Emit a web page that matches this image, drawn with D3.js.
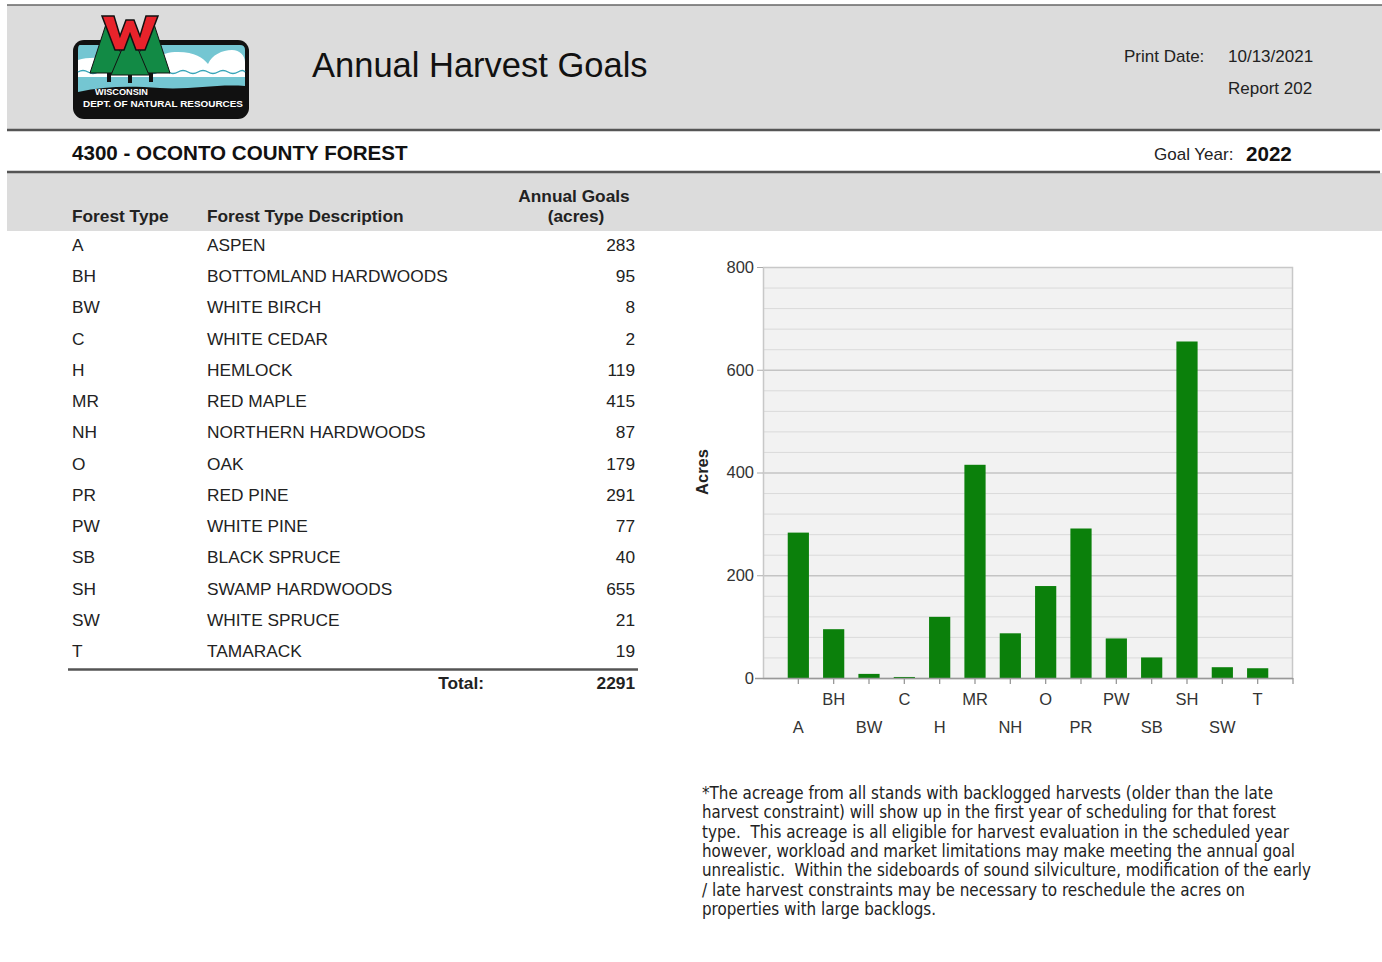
<!DOCTYPE html>
<html>
<head>
<meta charset="utf-8">
<script src="https://cdn.jsdelivr.net/npm/d3@7"></script>
<style>
  html, body { margin: 0; padding: 0; background: #fff; }
  svg { display: block; font-family: "Liberation Sans", Arial, sans-serif; }
  .fn text { white-space: pre; }
</style>
</head>
<body>
<svg id="page" width="1382" height="962"></svg>
<script>
// ---------- data ----------
const categories = ["A","BH","BW","C","H","MR","NH","O","PR","PW","SB","SH","SW","T"];
const descriptions = ["ASPEN","BOTTOMLAND HARDWOODS","WHITE BIRCH","WHITE CEDAR","HEMLOCK","RED MAPLE","NORTHERN HARDWOODS","OAK","RED PINE","WHITE PINE","BLACK SPRUCE","SWAMP HARDWOODS","WHITE SPRUCE","TAMARACK"];
const goals = [283,95,8,2,119,415,87,179,291,77,40,655,21,19];
const yTicks = [0,200,400,600,800];
const footnoteLines = [
  "*The acreage from all stands with backlogged harvests (older than the late",
  "harvest constraint) will show up in the first year of scheduling for that forest",
  "type.  This acreage is all eligible for harvest evaluation in the scheduled year",
  "however, workload and market limitations may make meeting the annual goal",
  "unrealistic.  Within the sideboards of sound silviculture, modification of the early",
  "/ late harvest constraints may be necessary to reschedule the acres on",
  "properties with large backlogs."
];
const footnoteWidths = [571, 574, 587, 593, 609, 543, 234];

const svg = d3.select("#page");
const textCol = "#222";

// ---------- header bands ----------
svg.append("rect").attr("x",7).attr("y",5).attr("width",1375).attr("height",125).attr("fill","#dcdcdc");
svg.append("line").attr("x1",7).attr("x2",1382).attr("y1",5).attr("y2",5).attr("stroke","#666").attr("stroke-width",1.5);
svg.append("line").attr("x1",7).attr("x2",1380).attr("y1",130).attr("y2",130).attr("stroke","#555").attr("stroke-width",2.5);
svg.append("rect").attr("x",7).attr("y",173).attr("width",1375).attr("height",58).attr("fill","#dcdcdc");
svg.append("line").attr("x1",7).attr("x2",1380).attr("y1",172).attr("y2",172).attr("stroke","#555").attr("stroke-width",2.5);

// ---------- logo ----------
const logo = svg.append("g");
logo.append("rect").attr("x",73).attr("y",40).attr("width",176).attr("height",79).attr("rx",11).attr("fill","#111");
logo.append("path").attr("d","M80,45 H240 Q245,45 245,50 V80 H78 V50 Q78,45 80,45 Z").attr("fill","#74c6d2");
// clouds
logo.append("path").attr("d","M150,72 C150,60 160,52 178,52 C195,52 203,58 208,64 C212,55 222,50 232,50 C240,50 245,56 245,62 V74 H150 Z").attr("fill","#fff");
logo.append("path").attr("d","M78,60 C90,56 110,58 130,62 L150,64 V74 H78 Z").attr("fill","#fff");
// white band and waves
logo.append("rect").attr("x",78).attr("y",64).attr("width",167).attr("height",14).attr("fill","#fff");
logo.append("path").attr("d","M78,72 q5,-3 10,0 t10,0 t10,0 t10,0 t10,0 t10,0 t10,0 t10,0 t10,0 t10,0 t10,0 t10,0 t10,0 t10,0 t10,0 t10,0 t7,0").attr("fill","none").attr("stroke","#3aa6b9").attr("stroke-width",1.4);
// water
logo.append("path").attr("d","M78,77 H245 V86 C215,84 190,90 160,88 C130,86 105,86 78,92 Z").attr("fill","#74c6d2");
// trees
const treeG = "#128a45";
logo.append("path").attr("d","M108,18 L90,73 L128,73 Z").attr("fill",treeG).attr("stroke","#111").attr("stroke-width",1);
logo.append("path").attr("d","M152,18 L132,73 L170,73 Z").attr("fill",treeG).attr("stroke","#111").attr("stroke-width",1);
logo.append("path").attr("d","M130,30 L111,75 L149,75 Z").attr("fill",treeG).attr("stroke","#111").attr("stroke-width",1);
logo.append("rect").attr("x",107).attr("y",73).attr("width",4).attr("height",9).attr("fill","#111");
logo.append("rect").attr("x",128).attr("y",75).attr("width",4).attr("height",8).attr("fill","#111");
logo.append("rect").attr("x",149).attr("y",73).attr("width",4).attr("height",9).attr("fill","#111");
// W
logo.append("path").attr("d","M102,16 H114 L120,36 L126,20 H134 L140,36 L146,16 H158 L145,50 H136 L130,34 L124,50 H115 Z")
  .attr("fill","#e8232b").attr("stroke","#111").attr("stroke-width",1.5);
logo.append("text").attr("x",95).attr("y",95).attr("fill","#fff").attr("font-size",8.5).attr("font-weight","bold")
  .attr("textLength",53).attr("lengthAdjust","spacingAndGlyphs").text("WISCONSIN");
logo.append("text").attr("x",83).attr("y",107).attr("fill","#fff").attr("font-size",8.5).attr("font-weight","bold")
  .attr("textLength",160).attr("lengthAdjust","spacingAndGlyphs").text("DEPT. OF NATURAL RESOURCES");

// ---------- header text ----------
svg.append("text").attr("x",312).attr("y",77).attr("font-size",34.5).attr("fill","#111").text("Annual Harvest Goals");
svg.append("text").attr("x",1124).attr("y",62).attr("font-size",17).attr("fill",textCol).text("Print Date:");
svg.append("text").attr("x",1228).attr("y",62).attr("font-size",17).attr("fill",textCol).text("10/13/2021");
svg.append("text").attr("x",1228).attr("y",94).attr("font-size",17).attr("fill",textCol).text("Report 202");
svg.append("text").attr("x",72).attr("y",160).attr("font-size",20.6).attr("font-weight","bold").attr("fill","#111").text("4300 - OCONTO COUNTY FOREST");
svg.append("text").attr("x",1154).attr("y",160).attr("font-size",17).attr("fill",textCol).text("Goal Year:");
svg.append("text").attr("x",1246).attr("y",161).attr("font-size",20.6).attr("font-weight","bold").attr("fill","#111").text("2022");

// ---------- table ----------
const hdr = svg.append("g").attr("font-size",17.3).attr("font-weight","bold").attr("fill","#222");
hdr.append("text").attr("x",72).attr("y",222).text("Forest Type");
hdr.append("text").attr("x",207).attr("y",222).text("Forest Type Description");
hdr.append("text").attr("x",574).attr("y",202).attr("text-anchor","middle").text("Annual Goals");
hdr.append("text").attr("x",576).attr("y",222).attr("text-anchor","middle").text("(acres)");

const rowY = d3.scalePoint().domain(categories).range([251, 657]);
const rows = svg.append("g").attr("font-size",17.3).attr("fill",textCol)
  .selectAll("g").data(categories).join("g")
  .attr("transform", d => `translate(0,${rowY(d)})`);
rows.append("text").attr("x",72).text(d => d);
rows.append("text").attr("x",207).text((d,i) => descriptions[i]);
rows.append("text").attr("x",635).attr("text-anchor","end").text((d,i) => goals[i]);

svg.append("line").attr("x1",68).attr("x2",638).attr("y1",669.5).attr("y2",669.5).attr("stroke","#555").attr("stroke-width",2.5);
svg.append("text").attr("x",484).attr("y",689).attr("text-anchor","end").attr("font-size",17.3).attr("font-weight","bold").attr("fill","#222").text("Total:");
svg.append("text").attr("x",635).attr("y",689).attr("text-anchor","end").attr("font-size",17.3).attr("font-weight","bold").attr("fill","#222").text(d3.sum(goals));

// ---------- chart ----------
const plot = {left:763, right:1293, top:267, bottom:678};
const x = d3.scaleBand().domain(categories).range([plot.left, plot.right]).paddingInner(0.4).paddingOuter(0.7);
const y = d3.scaleLinear().domain([0,800]).range([plot.bottom, plot.top]);

const chart = svg.append("g");
chart.append("rect").attr("x",plot.left).attr("y",plot.top).attr("width",plot.right-plot.left).attr("height",plot.bottom-plot.top)
  .attr("fill","#f2f2f2");
const minor = d3.range(40, 800, 40).filter(v => v % 200 !== 0);
chart.selectAll(".minor").data(minor).join("line").attr("class","minor")
  .attr("x1",plot.left).attr("x2",plot.right).attr("y1",d=>y(d)+0.5).attr("y2",d=>y(d)+0.5)
  .attr("stroke","#dadada").attr("stroke-width",1);
chart.selectAll(".major").data([200,400,600]).join("line").attr("class","major")
  .attr("x1",plot.left).attr("x2",plot.right).attr("y1",d=>y(d)+0.5).attr("y2",d=>y(d)+0.5)
  .attr("stroke","#c4c4c4").attr("stroke-width",1.3);
chart.append("rect").attr("x",plot.left+0.5).attr("y",plot.top+0.5).attr("width",plot.right-plot.left-1).attr("height",plot.bottom-plot.top)
  .attr("fill","none").attr("stroke","#c8c8c8").attr("stroke-width",1.5);

// bars
chart.selectAll(".bar").data(categories).join("rect").attr("class","bar")
  .attr("x", d => x(d)).attr("width", x.bandwidth())
  .attr("y", (d,i) => y(goals[i])).attr("height", (d,i) => y(0) - y(goals[i]))
  .attr("fill","#0b800b");

// y axis
const yAxis = d3.axisLeft(y).tickValues(yTicks).tickSize(6).tickPadding(3);
const yg = chart.append("g").attr("transform",`translate(${plot.left},0)`).call(yAxis);
yg.select(".domain").remove();
yg.selectAll(".tick line").attr("stroke","#aaa");
yg.selectAll(".tick text").attr("font-size",16.5).attr("fill","#333").attr("font-family","Liberation Sans, Arial, sans-serif");

// x axis
const xAxis = d3.axisBottom(x).tickSize(6).tickPadding(0);
const xg = chart.append("g").attr("transform",`translate(0,${plot.bottom})`).call(xAxis);
xg.select(".domain").attr("d",`M${plot.left-8},0.5H${plot.right}`).attr("stroke","#999").attr("stroke-width",1.5);
xg.selectAll(".tick line").attr("stroke","#999").attr("stroke-width",1.3);
xg.selectAll(".tick text").attr("font-size",16.5).attr("fill","#333").attr("font-family","Liberation Sans, Arial, sans-serif")
  .attr("dy",null).attr("y",(d,i) => i % 2 === 0 ? 55 : 27);
xg.append("line").attr("x1",plot.right).attr("x2",plot.right).attr("y1",0).attr("y2",6).attr("stroke","#999").attr("stroke-width",1.3);

// y label
svg.append("text").attr("transform","translate(708,472) rotate(-90)").attr("text-anchor","middle")
  .attr("font-size",16.5).attr("font-weight","bold").attr("fill","#222").text("Acres");

// ---------- footnote ----------
const fn = svg.append("g").attr("class","fn")
  .attr("font-family","'Liberation Sans Narrow', 'Arial Narrow', 'DejaVu Sans Condensed', sans-serif")
  .attr("font-size",16.8).attr("fill","#222");
fn.selectAll("text").data(footnoteLines).join("text")
  .attr("x",702).attr("y",(d,i) => 799 + i*19.3)
  .attr("textLength",(d,i) => footnoteWidths[i]).attr("lengthAdjust","spacingAndGlyphs")
  .text(d => d);
</script>
</body>
</html>
